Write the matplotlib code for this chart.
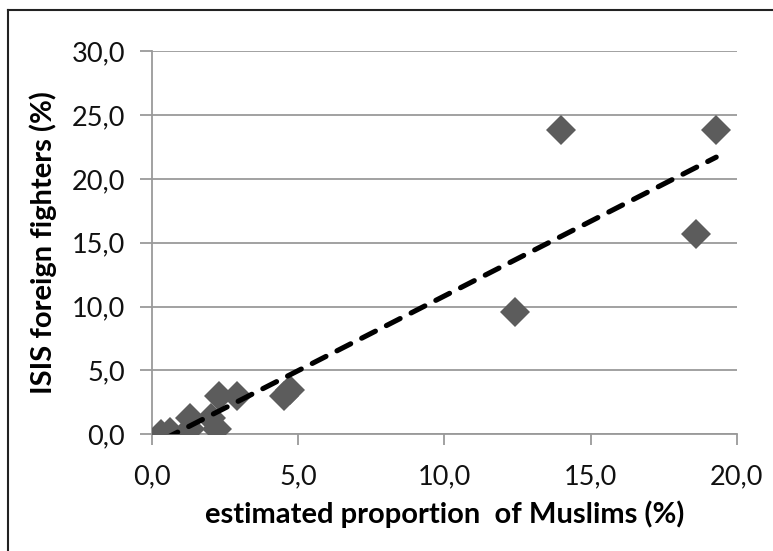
import matplotlib.pyplot as plt
import numpy as np
from matplotlib.lines import Line2D

# share of Muslims in population (%) vs share of ISIS foreign fighters (%)
muslims_pct = [0.3, 0.6, 1.3, 1.3, 2.0, 2.2, 2.3, 2.9, 4.5, 4.7, 12.4, 14.0, 18.6, 19.3]
fighters_pct = [0.0, 0.2, 1.3, 0.4, 1.3, 0.4, 3.0, 3.0, 3.0, 3.5, 9.6, 23.8, 15.7, 23.8]

x_ticks = [0, 5, 10, 15, 20]
y_ticks = [0, 5, 10, 15, 20, 25, 30]

plt.rcParams['font.family'] = ['Lato', 'DejaVu Sans']

fig = plt.figure(figsize=(7.73, 5.51), dpi=100)
ax = fig.add_axes([0.197, 0.212, 0.756, 0.695])

x = np.array(muslims_pct)
y = np.array(fighters_pct)

ax.plot(x, y, linestyle='none', marker='D', markersize=15.5,
        color='#5c5c5c', markeredgewidth=0, zorder=3)

# linear trend line
slope, intercept = np.polyfit(x, y, 1)
xs = np.array([x.min() + 0.1, x.max()])
ax.plot(xs, slope * xs + intercept, color='black', linewidth=3.7,
        dashes=(3.0, 2.4), dash_capstyle='round', zorder=4)

ax.set_xlim(0, 20)
ax.set_ylim(0, 30)
ax.set_xticks(x_ticks)
ax.set_yticks(y_ticks)
ax.set_xticklabels([f'{v:.1f}'.replace('.', ',') for v in x_ticks])
ax.set_yticklabels([f'{v:.1f}'.replace('.', ',') for v in y_ticks])

ax.grid(axis='y', color='#9a9a9a', linewidth=1.3)
ax.set_axisbelow(True)
for side in ['top', 'right']:
    ax.spines[side].set_visible(False)
ax.spines['left'].set_color('#9a9a9a')
ax.spines['bottom'].set_color('#9a9a9a')
ax.spines['left'].set_linewidth(1.3)
ax.spines['bottom'].set_linewidth(1.3)
ax.tick_params(axis='y', length=8.5, width=1.3, color='#9a9a9a', pad=11,
               labelsize=19.5, labelcolor='#111111')
ax.tick_params(axis='x', length=8, width=1.3, color='#9a9a9a', pad=14,
               labelsize=19.5, labelcolor='#111111')

ax.set_xlabel('estimated proportion  of Muslims (%)', fontsize=21,
              fontweight='bold')
ax.set_ylabel('ISIS foreign fighters (%)', fontsize=21,
              fontweight='bold')
ax.xaxis.set_label_coords(0.5, -0.172)
ax.yaxis.set_label_coords(-0.163, 0.5)

# outer frame (top and left edges visible)
fig.add_artist(Line2D([8 / 773, 1], [1 - 10 / 551, 1 - 10 / 551],
                      transform=fig.transFigure, color='#222222', linewidth=1.5))
fig.add_artist(Line2D([8 / 773, 8 / 773], [0, 1 - 10 / 551],
                      transform=fig.transFigure, color='#222222', linewidth=1.5))

fig.savefig('out.png', dpi=100)
